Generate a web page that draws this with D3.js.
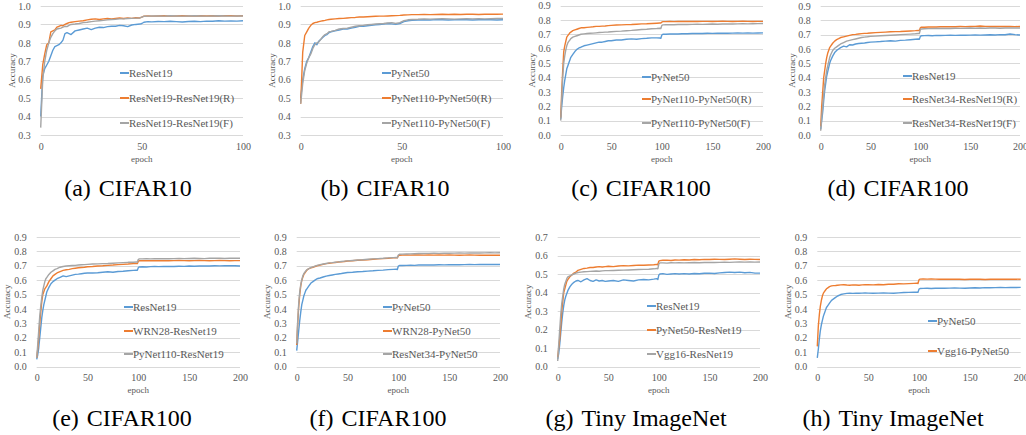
<!DOCTYPE html>
<html><head><meta charset="utf-8">
<script src="https://cdn.jsdelivr.net/npm/d3@7"></script>
<style>html,body{margin:0;padding:0;background:#fff;}svg{display:block;}</style>
</head><body>
<svg id="c" width="1026" height="435"></svg>
<script>
// ---------------- DATA ----------------
const captions = ["(a)\u2004CIFAR10","(b)\u2004CIFAR10","(c)\u2004CIFAR100","(d)\u2004CIFAR100","(e)\u2004CIFAR100","(f)\u2004CIFAR100","(g)\u2004Tiny ImageNet","(h)\u2004Tiny ImageNet"];
const yTicksA = [0.3,0.4,0.5,0.6,0.7,0.8,0.9,1.0];
const yTicksC = [0,0.1,0.2,0.3,0.4,0.5,0.6,0.7,0.8,0.9];
const yTicksG = [0,0.1,0.2,0.3,0.4,0.5,0.6,0.7];
const xTicks100 = [0,50,100];
const xTicks200 = [0,50,100,150,200];

const epochs100 = [0,1,2,3,4,5,6,7,8,9,10,11,12,13,14,15,17,19,21,23,25,27,29,31,33,35,37,39,41,43,45,47,49,50,51,53,55,58,61,64,67,70,73,76,79,82,85,88,91,94,97,100];
const epochs200 = [0,1,2,3,4,5,6,7,8,9,10,12,14,16,18,20,23,26,29,32,35,38,41,44,47,50,55,60,65,70,75,80,85,90,95,98,99,100,101,104,108,112,116,120,125,130,135,140,145,150,155,160,165,170,175,180,185,190,195,200];

// (a)
const namesA = ["ResNet19","ResNet19-ResNet19(R)","ResNet19-ResNet19(F)"];
const aBase = [0.40,0.62,0.66,0.68,0.70,0.73,0.76,0.78,0.785,0.79,0.80,0.815,0.85,0.855,0.85,0.845,
 0.865,0.87,0.875,0.88,0.872,0.88,0.885,0.883,0.888,0.89,0.89,0.895,0.893,0.888,0.897,0.9,0.902,
 0.905,0.912,0.915,0.914,
 0.916,0.915,0.917,0.915,0.913,0.916,0.917,0.915,0.918,0.917,0.92,0.918,0.919,0.918,0.92];
const aR = [0.55,0.68,0.74,0.79,0.80,0.86,0.865,0.87,0.885,0.89,0.895,0.893,0.90,0.905,0.91,0.912,
 0.915,0.918,0.92,0.925,0.928,0.93,0.927,0.93,0.932,0.93,0.933,0.935,0.932,0.935,0.933,0.936,0.935,
 0.94,0.945,0.946,0.945,
 0.946,0.947,0.945,0.946,0.947,0.946,0.945,0.947,0.946,0.947,0.946,0.948,0.947,0.946,0.947];
const aF = [0.34,0.60,0.70,0.76,0.80,0.83,0.85,0.865,0.875,0.878,0.88,0.885,0.89,0.888,0.895,0.90,
 0.902,0.905,0.91,0.912,0.915,0.918,0.92,0.922,0.925,0.927,0.928,0.93,0.93,0.932,0.933,0.934,0.935,
 0.94,0.944,0.945,0.946,
 0.946,0.945,0.947,0.946,0.945,0.946,0.947,0.946,0.945,0.946,0.947,0.946,0.945,0.946,0.946];

// (b)
const namesB = ["PyNet50","PyNet110-PyNet50(R)","PyNet110-PyNet50(F)"];
const bBase = [0.50,0.60,0.66,0.70,0.72,0.75,0.78,0.80,0.79,0.81,0.82,0.83,0.84,0.845,0.855,0.86,
 0.865,0.87,0.875,0.875,0.88,0.885,0.89,0.89,0.893,0.895,0.898,0.9,0.902,0.905,0.903,0.9,0.905,
 0.91,0.915,0.92,0.922,
 0.924,0.925,0.924,0.926,0.925,0.924,0.925,0.926,0.925,0.924,0.925,0.926,0.925,0.924,0.925];
const bR = [0.47,0.75,0.84,0.86,0.88,0.895,0.905,0.91,0.912,0.915,0.918,0.92,0.922,0.925,0.927,0.928,
 0.93,0.932,0.933,0.935,0.937,0.938,0.94,0.94,0.942,0.943,0.944,0.945,0.945,0.946,0.947,0.948,0.949,
 0.95,0.951,0.952,0.953,
 0.953,0.954,0.953,0.954,0.955,0.954,0.955,0.954,0.955,0.955,0.954,0.955,0.956,0.955,0.956];
const bF = [0.47,0.58,0.65,0.69,0.72,0.74,0.77,0.79,0.80,0.805,0.82,0.835,0.845,0.85,0.86,0.862,
 0.868,0.875,0.878,0.88,0.885,0.89,0.893,0.895,0.898,0.9,0.902,0.904,0.905,0.908,0.91,0.905,0.91,
 0.915,0.92,0.925,0.927,
 0.928,0.93,0.929,0.93,0.931,0.93,0.929,0.93,0.931,0.93,0.931,0.93,0.931,0.932,0.932];

// (c)
const namesC = ["PyNet50","PyNet110-PyNet50(R)","PyNet110-PyNet50(F)"];
const cBase = [0.11,0.2,0.27,0.33,0.38,0.42,0.46,0.48,0.5,0.52,0.54,
 0.56,0.58,0.595,0.605,0.61,
 0.62,0.625,0.63,0.635,0.64,0.645,0.645,0.65,0.655,
 0.655,0.66,0.66,0.665,0.668,0.665,0.67,0.672,0.675,0.675,
 0.674,0.672,0.695,0.7,
 0.7,0.702,0.703,0.702,0.704,
 0.704,0.705,0.706,0.705,0.707,0.706,0.707,0.708,0.707,0.708,0.709,0.708,0.709,0.708,0.709,0.71];
const cR = [0.12,0.3,0.45,0.58,0.62,0.65,0.68,0.69,0.7,0.71,0.715,
 0.725,0.73,0.735,0.74,0.745,
 0.745,0.748,0.75,0.752,0.755,0.755,0.757,0.758,0.76,
 0.762,0.764,0.765,0.767,0.768,0.77,0.772,0.773,0.775,0.777,
 0.778,0.778,0.785,0.788,
 0.788,0.789,0.788,0.79,0.789,
 0.789,0.79,0.789,0.79,0.79,0.789,0.79,0.791,0.79,0.789,0.79,0.791,0.79,0.789,0.79,0.79];
const cF = [0.1,0.25,0.4,0.5,0.55,0.59,0.62,0.64,0.65,0.66,0.67,
 0.68,0.685,0.69,0.695,0.7,
 0.703,0.705,0.707,0.708,0.71,0.712,0.713,0.715,0.716,
 0.718,0.72,0.722,0.725,0.727,0.73,0.733,0.735,0.738,0.74,
 0.742,0.74,0.762,0.765,
 0.766,0.767,0.766,0.768,0.768,
 0.768,0.769,0.77,0.769,0.77,0.771,0.77,0.771,0.772,0.771,0.772,0.773,0.772,0.773,0.774,0.775];

// (d)
const namesD = ["ResNet19","ResNet34-ResNet19(R)","ResNet34-ResNet19(F)"];
const dBase = [0.04,0.1,0.16,0.24,0.31,0.36,0.41,0.44,0.47,0.5,0.52,
 0.55,0.575,0.59,0.6,0.61,
 0.62,0.615,0.63,0.628,0.635,0.638,0.64,0.642,0.645,
 0.648,0.65,0.652,0.655,0.658,0.655,0.66,0.662,0.665,0.668,
 0.67,0.668,0.688,0.692,
 0.693,0.694,0.692,0.695,0.694,
 0.695,0.696,0.695,0.697,0.696,0.697,0.698,0.697,0.698,0.699,0.698,0.7,0.699,0.705,0.7,0.698];
const dR = [0.06,0.2,0.3,0.4,0.45,0.5,0.54,0.57,0.59,0.61,0.62,
 0.64,0.655,0.665,0.672,0.68,
 0.685,0.69,0.695,0.7,0.702,0.705,0.707,0.709,0.71,
 0.712,0.714,0.716,0.718,0.72,0.721,0.722,0.724,0.726,0.728,
 0.73,0.728,0.748,0.752,
 0.752,0.753,0.754,0.753,0.755,
 0.755,0.756,0.755,0.757,0.756,0.757,0.758,0.76,0.758,0.757,0.758,0.757,0.758,0.757,0.756,0.757];
const dF = [0.03,0.12,0.2,0.28,0.35,0.4,0.45,0.48,0.51,0.54,0.56,
 0.59,0.605,0.615,0.625,0.635,
 0.645,0.655,0.66,0.665,0.67,0.675,0.68,0.683,0.685,
 0.688,0.69,0.692,0.694,0.696,0.698,0.7,0.702,0.704,0.706,
 0.708,0.707,0.735,0.74,
 0.741,0.742,0.742,0.743,0.743,
 0.744,0.743,0.745,0.744,0.745,0.746,0.745,0.746,0.745,0.747,0.746,0.745,0.746,0.747,0.746,0.746];

// (e)
const namesE = ["ResNet19","WRN28-ResNet19","PyNet110-ResNet19"];
const eBase = [0.05,0.08,0.13,0.2,0.27,0.34,0.39,0.43,0.46,0.49,0.52,
 0.55,0.575,0.59,0.6,0.61,
 0.62,0.63,0.625,0.63,0.635,0.64,0.642,0.645,0.648,
 0.65,0.65,0.652,0.655,0.658,0.655,0.66,0.662,0.665,0.668,
 0.67,0.668,0.688,0.692,
 0.693,0.692,0.694,0.695,0.694,
 0.695,0.696,0.695,0.697,0.696,0.698,0.697,0.698,0.699,0.698,0.7,0.699,0.7,0.701,0.7,0.698];
const eWrn = [0.06,0.12,0.2,0.3,0.38,0.45,0.5,0.52,0.54,0.55,0.56,
 0.59,0.61,0.63,0.64,0.65,
 0.66,0.668,0.672,0.675,0.68,0.683,0.686,0.688,0.69,
 0.693,0.695,0.698,0.7,0.703,0.705,0.708,0.71,0.712,0.715,
 0.716,0.715,0.732,0.735,
 0.735,0.736,0.735,0.736,0.735,
 0.736,0.735,0.736,0.737,0.736,0.735,0.736,0.737,0.736,0.735,0.736,0.737,0.736,0.735,0.736,0.736];
const ePy = [0.06,0.15,0.25,0.35,0.42,0.48,0.53,0.56,0.59,0.61,0.62,
 0.64,0.655,0.665,0.675,0.68,
 0.69,0.695,0.698,0.7,0.702,0.703,0.705,0.707,0.708,
 0.71,0.712,0.713,0.715,0.716,0.718,0.72,0.722,0.724,0.725,
 0.726,0.725,0.745,0.748,
 0.748,0.749,0.748,0.75,0.749,
 0.75,0.749,0.75,0.751,0.75,0.751,0.752,0.751,0.75,0.752,0.753,0.752,0.751,0.752,0.753,0.752];

// (f)
const namesF = ["PyNet50","WRN28-PyNet50","ResNet34-PyNet50"];
const fBase = [0.11,0.18,0.25,0.32,0.38,0.43,0.46,0.49,0.51,0.53,0.54,
 0.56,0.58,0.59,0.6,0.61,
 0.615,0.622,0.628,0.632,0.636,0.64,0.643,0.646,0.65,
 0.653,0.655,0.658,0.66,0.663,0.665,0.668,0.67,0.673,0.675,
 0.676,0.674,0.698,0.702,
 0.702,0.703,0.704,0.703,0.705,
 0.705,0.706,0.705,0.707,0.706,0.707,0.708,0.707,0.708,0.709,0.708,0.709,0.71,0.709,0.71,0.709];
const fWrn = [0.15,0.3,0.42,0.5,0.56,0.6,0.62,0.64,0.65,0.66,0.67,
 0.68,0.685,0.69,0.695,0.7,
 0.705,0.71,0.715,0.718,0.72,0.723,0.726,0.728,0.73,
 0.733,0.735,0.738,0.74,0.742,0.745,0.748,0.75,0.752,0.755,
 0.756,0.755,0.77,0.773,
 0.774,0.775,0.774,0.775,0.775,
 0.774,0.775,0.774,0.775,0.774,0.775,0.774,0.773,0.774,0.775,0.774,0.773,0.774,0.773,0.774,0.773];
const fRes = [0.16,0.32,0.44,0.52,0.57,0.6,0.63,0.645,0.655,0.665,0.672,
 0.68,0.688,0.692,0.698,0.703,
 0.708,0.712,0.716,0.72,0.722,0.725,0.727,0.73,0.732,
 0.734,0.737,0.74,0.742,0.745,0.748,0.75,0.752,0.755,0.757,
 0.758,0.756,0.775,0.78,
 0.781,0.782,0.783,0.784,0.785,
 0.785,0.786,0.787,0.786,0.788,0.787,0.788,0.789,0.788,0.789,0.79,0.789,0.79,0.791,0.79,0.791];

// (g)
const namesG = ["ResNet19","PyNet50-ResNet19","Vgg16-ResNet19"];
const gBase = [0.04,0.07,0.12,0.18,0.24,0.29,0.33,0.36,0.38,0.395,0.41,
 0.43,0.445,0.455,0.462,0.465,
 0.458,0.468,0.475,0.465,0.46,0.468,0.462,0.465,0.46,
 0.462,0.465,0.46,0.468,0.465,0.462,0.468,0.47,0.468,0.472,
 0.475,0.47,0.495,0.5,
 0.502,0.498,0.5,0.502,0.5,
 0.502,0.5,0.503,0.501,0.504,0.505,0.503,0.506,0.508,0.51,0.508,0.51,0.507,0.509,0.505,0.505];
const gPy = [0.05,0.1,0.15,0.22,0.3,0.35,0.4,0.42,0.44,0.46,0.47,
 0.485,0.495,0.505,0.51,0.52,
 0.525,0.53,0.532,0.535,0.535,0.538,0.54,0.538,0.54,
 0.542,0.54,0.543,0.545,0.544,0.546,0.548,0.547,0.549,0.55,
 0.552,0.55,0.57,0.572,
 0.574,0.575,0.573,0.576,0.575,
 0.577,0.576,0.578,0.577,0.579,0.578,0.58,0.579,0.578,0.58,0.582,0.58,0.578,0.58,0.579,0.578];
const gVgg = [0.03,0.12,0.2,0.28,0.34,0.38,0.42,0.445,0.46,0.475,0.485,
 0.49,0.495,0.5,0.505,0.508,
 0.51,0.512,0.513,0.514,0.515,0.516,0.515,0.517,0.518,
 0.518,0.519,0.52,0.521,0.522,0.523,0.524,0.525,0.526,0.528,
 0.53,0.528,0.555,0.56,
 0.56,0.559,0.561,0.56,0.561,
 0.56,0.561,0.562,0.561,0.562,0.563,0.562,0.563,0.564,0.563,0.564,0.565,0.564,0.565,0.564,0.565];

// (h)
const namesH = ["PyNet50","Vgg16-PyNet50"];
const hBase = [0.06,0.12,0.19,0.25,0.29,0.32,0.35,0.37,0.39,0.41,0.42,
 0.44,0.46,0.47,0.48,0.49,
 0.5,0.505,0.508,0.51,0.508,0.51,0.509,0.51,0.511,
 0.51,0.509,0.51,0.511,0.51,0.509,0.512,0.514,0.515,0.516,
 0.517,0.515,0.538,0.542,
 0.543,0.544,0.542,0.544,0.545,
 0.544,0.545,0.546,0.545,0.544,0.546,0.547,0.546,0.548,0.547,0.548,0.549,0.548,0.55,0.549,0.55];
const hVgg = [0.14,0.28,0.36,0.42,0.46,0.49,0.51,0.52,0.53,0.54,0.545,
 0.555,0.56,0.562,0.563,0.565,
 0.567,0.568,0.566,0.565,0.567,0.566,0.565,0.567,0.568,
 0.568,0.567,0.57,0.568,0.572,0.572,0.575,0.574,0.576,0.578,
 0.579,0.577,0.603,0.607,
 0.608,0.607,0.608,0.607,0.606,
 0.607,0.606,0.607,0.606,0.605,0.606,0.607,0.606,0.605,0.606,0.607,0.606,0.607,0.606,0.607,0.606];

const colors = ["#5b9bd5","#ed7d31","#a5a5a5"];

// ---------------- LAYOUT ----------------
const panels = [
 {ep:epochs100, series:[aBase,aR,aF], names:namesA, xmax:100, xt:xTicks100, yt:yTicksA, x0:40.7, x1:243, yT:6, yB:135, lx:120, ly:[73,98,123], yl:12, cx:128, cy:196},
 {ep:epochs100, series:[bBase,bR,bF], names:namesB, xmax:100, xt:xTicks100, yt:yTicksA, x0:300.7, x1:503, yT:6, yB:135, lx:382, ly:[73,98,123], yl:272, cx:385, cy:196},
 {ep:epochs200, series:[cBase,cR,cF], names:namesC, xmax:200, xt:xTicks200, yt:yTicksC, x0:560.7, x1:763, yT:5.5, yB:135, lx:642, ly:[77,99,123], yl:532, cx:641, cy:196},
 {ep:epochs200, series:[dBase,dR,dF], names:namesD, xmax:200, xt:xTicks200, yt:yTicksC, x0:820.7, x1:1020, yT:6, yB:135, lx:903, ly:[76,99,123], yl:792, cx:898, cy:196},
 {ep:epochs200, series:[eBase,eWrn,ePy], names:namesE, xmax:200, xt:xTicks200, yt:yTicksC, x0:36.7, x1:240, yT:237, yB:366.5, lx:124, ly:[307,331,354], yl:7, cx:122, cy:426},
 {ep:epochs200, series:[fBase,fWrn,fRes], names:namesF, xmax:200, xt:xTicks200, yt:yTicksC, x0:296.7, x1:500, yT:237, yB:366.5, lx:383, ly:[307,331,354], yl:267, cx:378, cy:426},
 {ep:epochs200, series:[gBase,gPy,gVgg], names:namesG, xmax:200, xt:xTicks200, yt:yTicksG, x0:557.7, x1:760, yT:237, yB:366.5, lx:647, ly:[306,330,354], yl:528, cx:636, cy:426},
 {ep:epochs200, series:[hBase,hVgg], names:namesH, xmax:200, xt:xTicks200, yt:yTicksC, x0:817.3, x1:1020.7, yT:237, yB:366.5, lx:928, ly:[321,351], yl:788, cx:893, cy:426}
];

const svg = d3.select("#c");
const serif = "'Liberation Serif','Times New Roman',Times,serif";
const problems = [];

panels.forEach((p, pi) => {
  const g = svg.append("g");
  const x = d3.scaleLinear().domain([0, p.xmax]).range([p.x0, p.x1]);
  const y = d3.scaleLinear().domain([p.yt[0], p.yt[p.yt.length-1]]).range([p.yB, p.yT]);

  // gridlines
  g.append("g").selectAll("line").data(p.yt).join("line")
    .attr("x1", p.x0).attr("x2", p.x1)
    .attr("y1", d => Math.round(y(d)) + 0.5).attr("y2", d => Math.round(y(d)) + 0.5)
    .attr("stroke", "#d9d9d9").attr("stroke-width", 1);

  // y axis labels
  const ya = g.append("g").attr("transform", `translate(${p.x0},0)`)
    .call(d3.axisLeft(y).tickValues(p.yt).tickSize(0).tickPadding(10).tickFormat(d3.format(".1f")));
  ya.select(".domain").remove();
  ya.selectAll("text").attr("font-family", serif).attr("font-size", 10).attr("fill", "#595959");

  // x axis labels
  const xa = g.append("g").attr("transform", `translate(0,${p.yB})`)
    .call(d3.axisBottom(x).tickValues(p.xt).tickSize(0).tickPadding(7.5).tickFormat(d3.format("d")));
  xa.select(".domain").remove();
  xa.selectAll("text").attr("font-family", serif).attr("font-size", 10).attr("fill", "#595959");

  // axis titles
  g.append("text").attr("x", (p.x0 + p.x1) / 2).attr("y", p.yB + 26.5)
    .attr("text-anchor", "middle").attr("font-family", serif).attr("font-size", 9).attr("fill", "#595959").text("epoch");
  g.append("text").attr("transform", `translate(${p.yl},${(p.yT + p.yB) / 2}) rotate(-90)`)
    .attr("text-anchor", "middle").attr("dy", "0.35em").attr("font-family", serif).attr("font-size", 9).attr("fill", "#595959").text("Accuracy");

  // lines
  const line = d3.line().defined(d => d[1] != null && !isNaN(d[1])).x(d => x(d[0])).y(d => y(d[1]));
  p.series.forEach((s, si) => {
    if (s.length !== p.ep.length) problems.push(`panel ${pi} series ${si}: ${s.length} vs ${p.ep.length}`);
    const pts = p.ep.map((e, i) => [e, s[i]]);
    g.append("path").datum(pts).attr("d", line)
      .attr("fill", "none").attr("stroke", colors[si]).attr("stroke-width", 1.4).attr("stroke-linejoin", "round");
  });

  // legend
  p.names.forEach((n, si) => {
    g.append("line").attr("x1", p.lx).attr("x2", p.lx + 9).attr("y1", p.ly[si]).attr("y2", p.ly[si])
      .attr("stroke", colors[si]).attr("stroke-width", 2);
    g.append("text").attr("x", p.lx + 9).attr("y", p.ly[si]).attr("dy", "0.35em")
      .attr("font-family", serif).attr("font-size", 11).attr("fill", "#595959").text(n);
  });

  // caption
  svg.append("text").attr("x", p.cx).attr("y", p.cy).attr("text-anchor", "middle")
    .attr("font-family", serif).attr("font-size", 24).attr("fill", "#000").text(captions[pi]);
});

if (problems.length) throw new Error("length mismatch: " + problems.join("; "));
</script>
</body></html>
